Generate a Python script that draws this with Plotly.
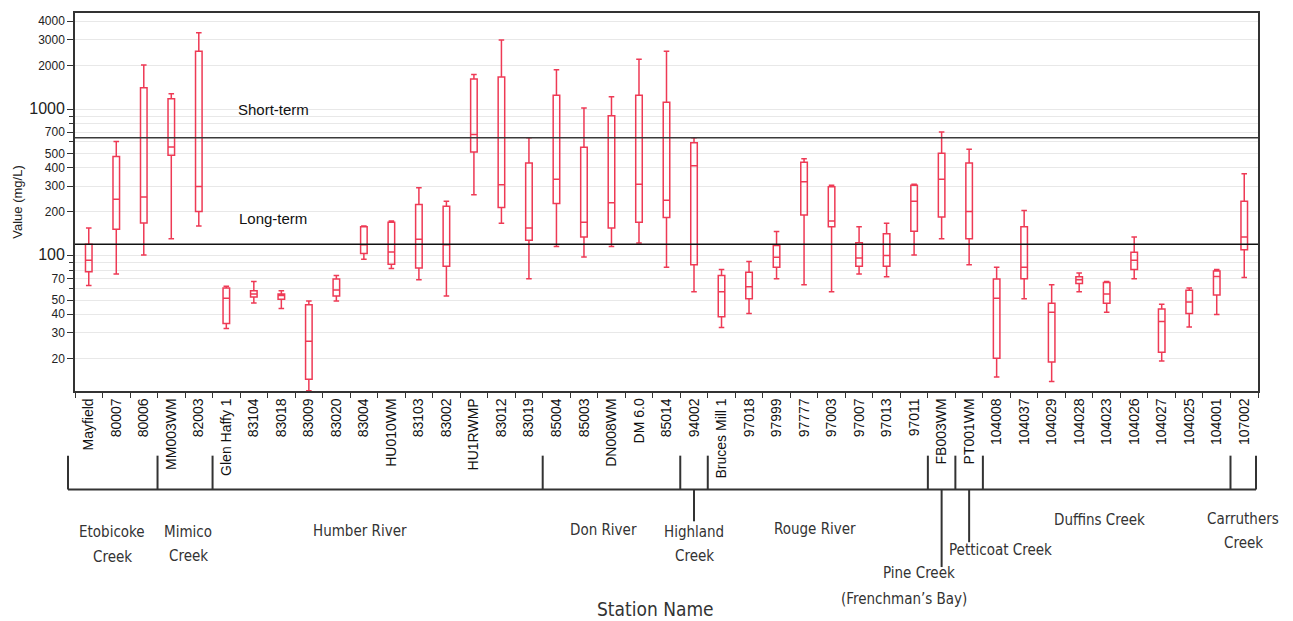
import plotly.graph_objects as go
import math

stations = ["Mayfield", "80007", "80006", "MM003WM", "82003", "Glen Haffy 1", "83104", "83018",
            "83009", "83020", "83004", "HU010WM", "83103", "83002", "HU1RWMP", "83012", "83019",
            "85004", "85003", "DN008WM", "DM 6.0", "85014", "94002", "Bruces Mill 1", "97018",
            "97999", "97777", "97003", "97007", "97013", "97011", "FB003WM", "PT001WM", "104008",
            "104037", "104029", "104028", "104023", "104026", "104027", "104025", "104001", "107002"]

upper = [155, 605, 2013, 1279, 3334, 62, 67, 57.9, 49.3, 73.5, 160, 173, 292, 236, 1733, 2971, 641,
         1862, 1023, 1222, 2198, 2494, 641, 80.7, 91.5, 147, 461, 304, 158, 167, 309, 700, 535, 83.8,
         204, 63.5, 76.4, 67, 134.5, 46.8, 60.4, 80.7, 364]
q3 = [120, 477, 1406, 1183, 2494, 60.4, 57.9, 55, 46.5, 69.5, 158, 170, 224, 218, 1611, 1667, 430,
      1247, 551, 904, 1247, 1119, 593, 73.5, 77.4, 118, 436, 297, 123, 141.6, 304, 502, 430, 69.5,
      158, 47.5, 72, 65.9, 106, 43.5, 58.2, 79, 236]
median = [93.5, 244, 252, 554, 298, 51.4, 55, 53.6, 26.2, 58.5, 119, 106.4, 130, 119, 675, 306, 155,
          333, 170, 231, 309, 240, 412, 57, 61.6, 98, 321, 173, 96.9, 100.5, 236, 333, 201, 51.4,
          83.8, 41.3, 68.7, 55, 93.5, 35.7, 48.5, 72.4, 134.5]
q1 = [78, 152, 168, 486, 201, 34.6, 52.5, 50.6, 14.4, 53.3, 104, 87.8, 82.6, 85, 513, 214, 128,
      228, 134.5, 155, 170, 183, 86.9, 38.4, 51, 83.8, 190, 158, 85, 85, 147.5, 184, 131, 20,
      69.8, 18.9, 64.9, 47.5, 80.7, 22, 40.5, 54, 110]
lower = [62.7, 75.2, 101.6, 131, 160, 31.9, 47.8, 43.8, 12, 49.3, 95, 82, 68.7, 53.3, 262, 167, 69.8,
         116, 98.5, 116, 122.6, 83.8, 57, 32.5, 40.5, 69.8, 63.5, 57, 75.2, 72, 101.6, 131, 86.9,
         14.9, 51, 13.9, 57, 41.3, 69.8, 19.2, 32.7, 39.8, 71.3]

guidelines = {"Short-term": 640, "Long-term": 120}

group_sizes = [3, 2, 12, 5, 1, 8, 1, 1, 9, 1]
group_labels = [["Etobicoke", "Creek"], ["Mimico", "Creek"], ["Humber River"], ["Don River"],
                ["Highland", "Creek"], ["Rouge River"], ["Pine Creek", "(Frenchman\u2019s Bay)"],
                ["Petticoat Creek"], ["Duffins Creek"], ["Carruthers", "Creek"]]

y_major = [20, 30, 40, 50, 70, 100, 200, 300, 400, 500, 700, 1000, 2000, 3000, 4000]
y_minor = [60, 80, 90, 600, 800, 900]

# ---------------------------------------------------------------
W, H = 1293, 621
ML, MR, MT, MB = 75, 35, 11, 230
PW, PH = W - ML - MR, H - MT - MB


def px_x(x):
    return (x - ML) / PW


def px_y(y):
    return (H - MB - y) / PH


RED = "#ee3a55"
fig = go.Figure()
fig.add_trace(go.Box(
    x=stations, q1=q1, median=median, q3=q3, lowerfence=lower, upperfence=upper,
    boxpoints=False, line=dict(color=RED, width=1.5), fillcolor="rgba(255,255,255,0)",
    whiskerwidth=0.85, showlegend=False, hoverinfo="y"))

shapes = []
for name, val in guidelines.items():
    shapes.append(dict(type="line", xref="paper", x0=0, x1=1, yref="y", y0=val, y1=val,
                       line=dict(color="#3a3a3a" if name == "Short-term" else "#111", width=1.5)))

afont = dict(size=15, color="#111", family="Liberation Sans, Arial")
annotations = [
    dict(text="Short-term", xref="paper", x=px_x(273), yref="y", y=math.log10(1000),
         xanchor="center", yanchor="middle", showarrow=False, font=afont),
    dict(text="Long-term", xref="paper", x=px_x(273), yref="y", y=math.log10(181),
         xanchor="center", yanchor="middle", showarrow=False, font=afont),
]

# bracket structure under the axis
bounds = [-0.5]
for s in group_sizes:
    bounds.append(bounds[-1] + s)
y_top, y_bar = px_y(456), px_y(490)
x_left = px_x(68)
x_right = px_x(1256)
line_style = dict(color="#333", width=2)
shapes.append(dict(type="line", xref="paper", yref="paper", x0=x_left, x1=x_right, y0=y_bar, y1=y_bar,
                   line=line_style))
for i, b in enumerate(bounds):
    if i == 0 or i == len(bounds) - 1:
        xx = x_left if i == 0 else x_right
        shapes.append(dict(type="line", xref="paper", yref="paper", x0=xx, x1=xx, y0=y_top, y1=y_bar,
                           line=line_style))
    else:
        shapes.append(dict(type="line", xref="x", yref="paper", x0=b, x1=b, y0=y_top, y1=y_bar, line=line_style))

stem_ends = {4: 522, 6: 568, 7: 543}
for gi, yend in stem_ends.items():
    cx = (bounds[gi] + bounds[gi + 1]) / 2
    shapes.append(dict(type="line", xref="x", yref="paper", x0=cx, x1=cx, y0=y_bar, y1=px_y(yend), line=line_style))

label_pos = [[(112, 533), (112, 558)], [(188, 533), (188, 557)], [(360, 532)], [(603, 531)],
             [(694, 533), (694, 557)], [(815, 530)], [(919, 574), (904, 600)], [(1000, 551)],
             [(1099, 521)], [(1243, 520), (1243, 544)]]
gfont = dict(size=15, color="#333", family="DejaVu Sans Condensed, Liberation Sans Narrow, Arial Narrow")
for lines, poss in zip(group_labels, label_pos):
    for t, (lx, ly) in zip(lines, poss):
        annotations.append(dict(text=t, xref="paper", yref="paper", x=px_x(lx), y=px_y(ly),
                                showarrow=False, font=gfont, xanchor="center", yanchor="middle"))
annotations.append(dict(text="Station Name", xref="paper", yref="paper", x=px_x(655), y=px_y(610),
                        showarrow=False, xanchor="center", yanchor="middle",
                        font=dict(size=19, color="#333",
                                  family="DejaVu Sans Condensed, Liberation Sans Narrow, Arial Narrow")))

ticktext = [f'<span style="font-size:16px">{v}</span>' if v in (100, 1000) else str(v) for v in y_major]

fig.update_layout(
    width=W, height=H, margin=dict(l=ML, r=MR, t=MT, b=MB),
    paper_bgcolor="white", plot_bgcolor="white",
    boxgap=0.66, shapes=shapes, annotations=annotations,
    font=dict(family="Liberation Sans, Arial", color="#111"),
    xaxis=dict(type="category", categoryorder="array", categoryarray=stations,
               tickangle=-90, tickfont=dict(size=14, color="#111"),
               ticks="outside", tickson="boundaries", ticklen=5, tickcolor="#333",
               showline=True, mirror=True, linecolor="#333", linewidth=1.5,
               showgrid=False, range=[-0.5, len(stations) - 0.5]),
    yaxis=dict(type="log", range=[1.078, 3.658], tickvals=y_major, ticktext=ticktext,
               tickfont=dict(size=12, color="#222"), ticks="outside", ticklen=6, tickcolor="#333",
               showgrid=True, gridcolor="#e8e8e8", gridwidth=1.2,
               minor=dict(tickvals=y_minor, ticks="outside", ticklen=4, tickcolor="#333",
                          showgrid=True, gridcolor="#e8e8e8", gridwidth=1.2),
               showline=True, mirror=True, linecolor="#333", linewidth=1.5, zeroline=False,
               title=dict(text="Value (mg/L)", font=dict(size=13, color="#222"), standoff=4)),
)

fig.write_html("out.html", config={"displayModeBar": False},
               post_script="document.body.style.margin='0';")
